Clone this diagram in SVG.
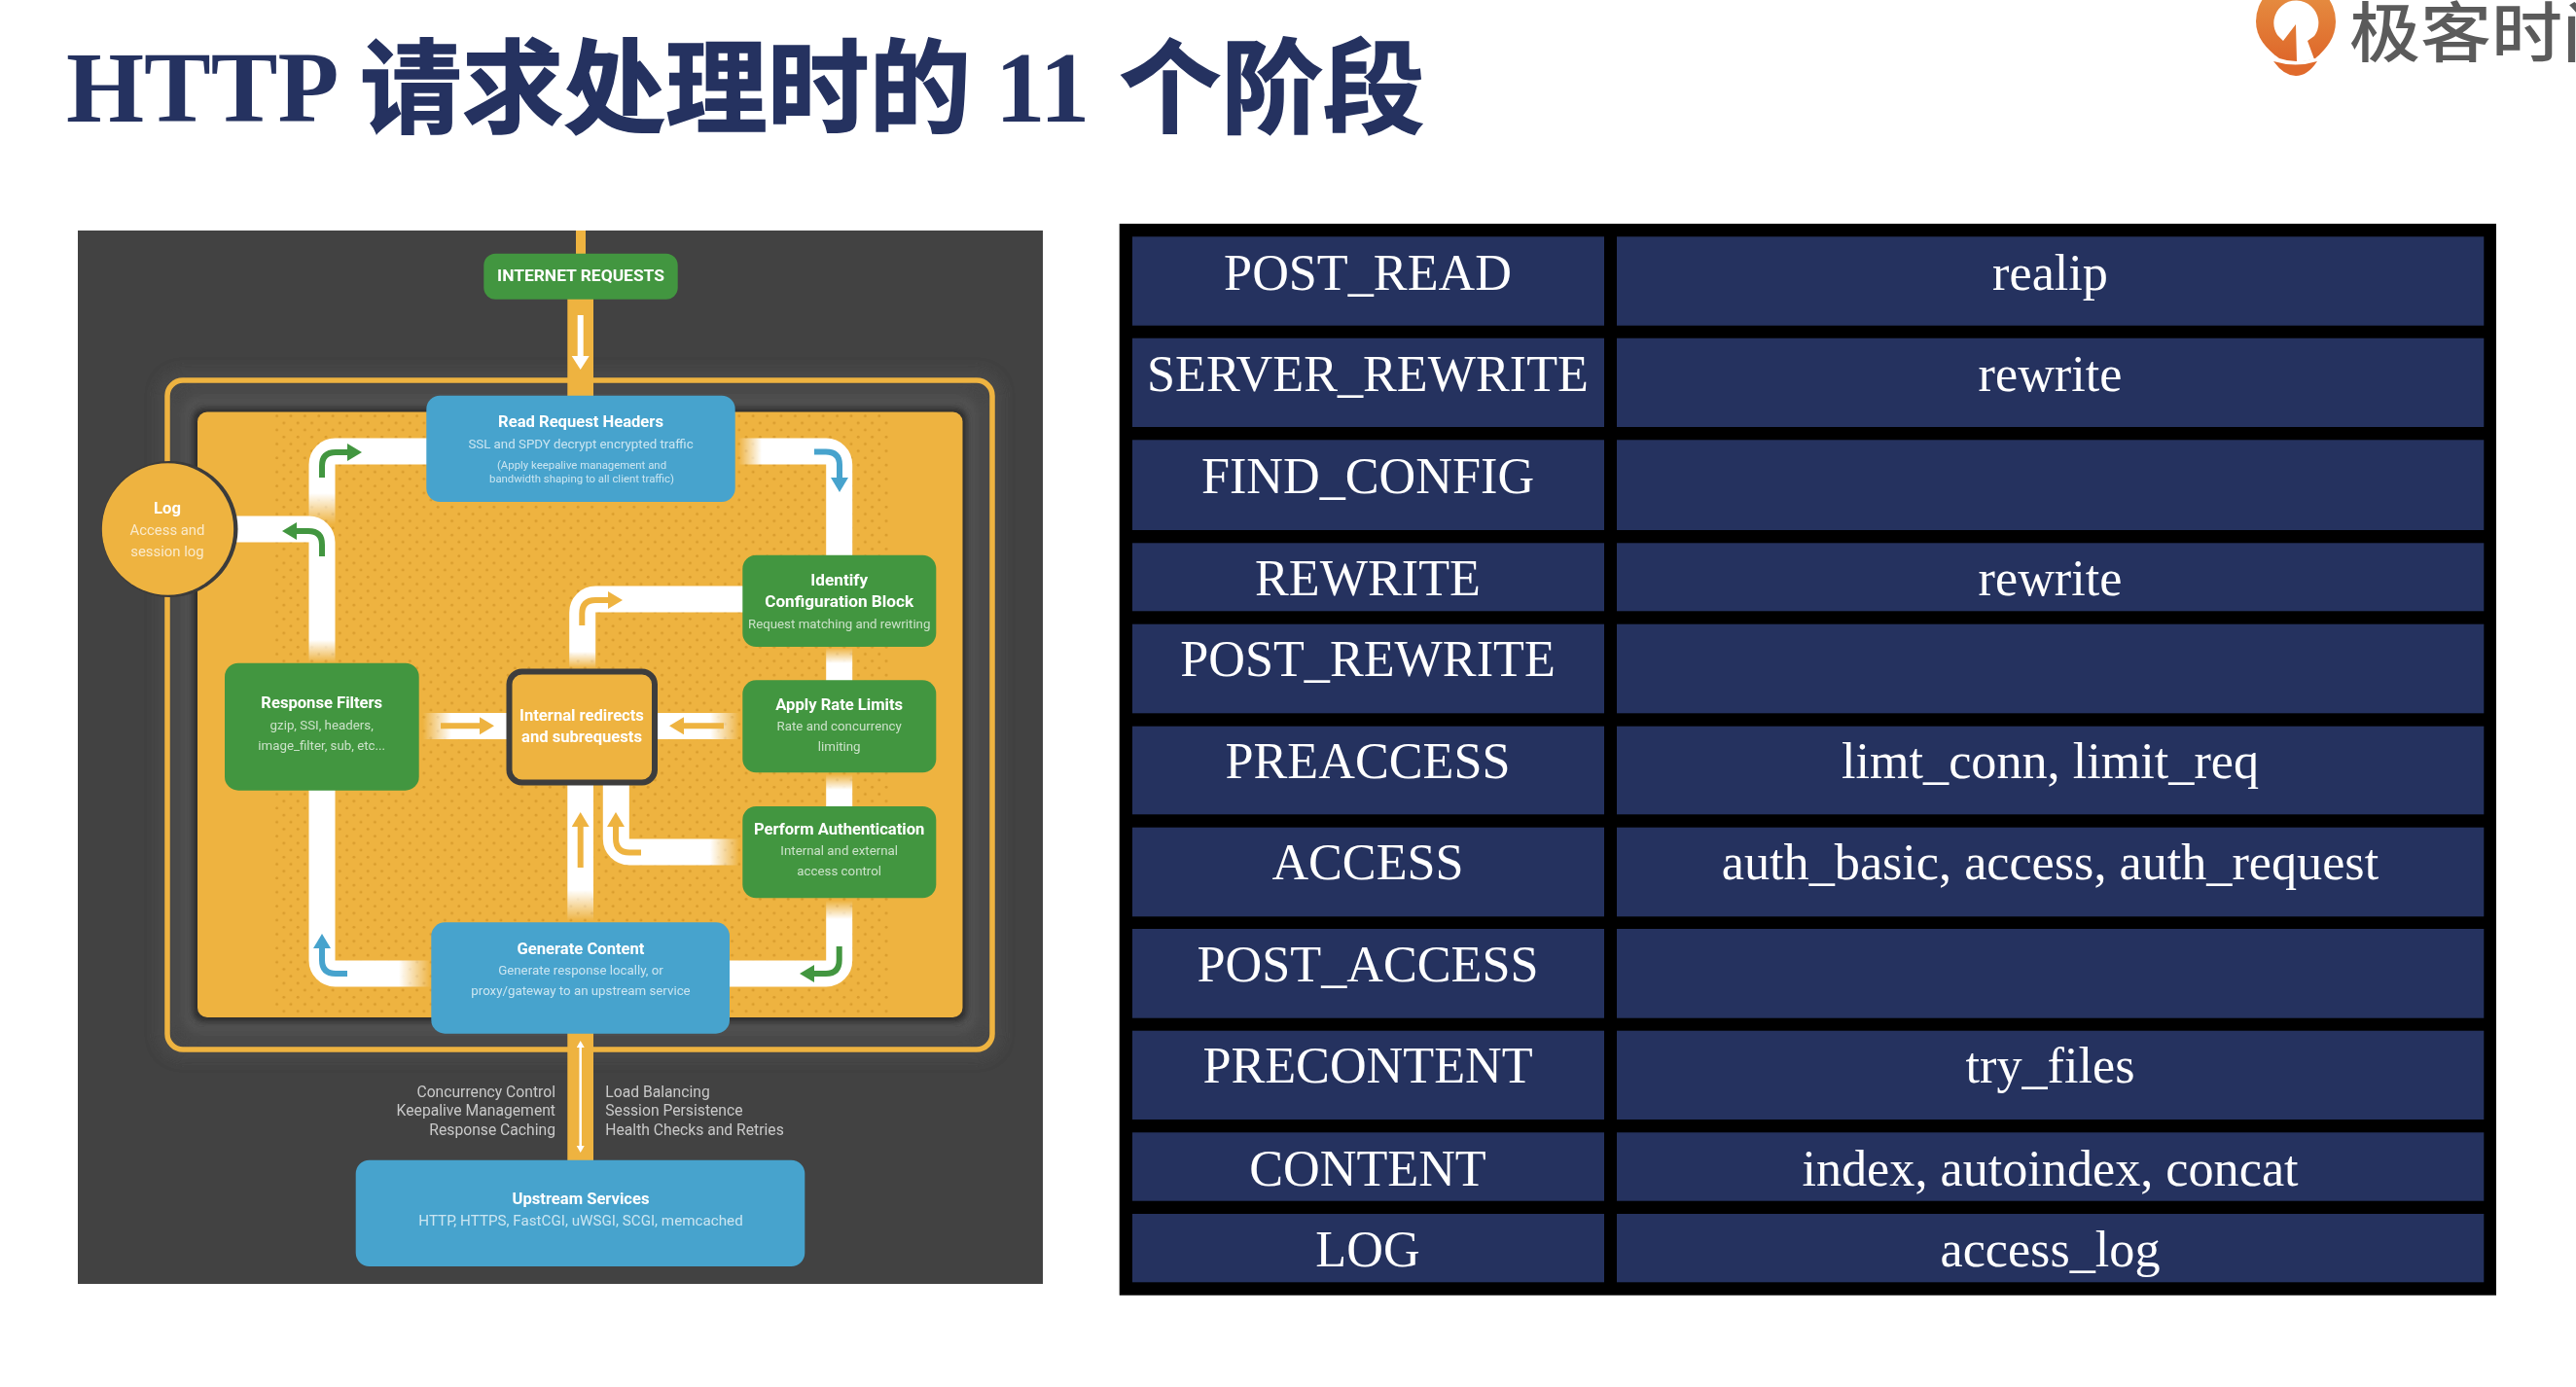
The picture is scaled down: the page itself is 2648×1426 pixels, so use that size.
<svg xmlns="http://www.w3.org/2000/svg" width="2648" height="1426" viewBox="0 0 2648 1426">
<style>
  .title { font: 700 103px "Liberation Serif", "Noto Sans CJK SC", serif; fill: #253260; }
  .title .cjk { font: 700 104.700px "Noto Sans CJK SC", sans-serif; stroke: #253260; stroke-width: 1.500px; }
  .brand { font: 500 73px "Noto Sans CJK SC", sans-serif; fill: #5b5b5b; }
  .cell { fill: #25325f; }
  .ct { font: 52.200px "Liberation Serif", serif; fill: #fff; text-anchor: middle; }
  .green { fill: #43963f; } .blue { fill: #46a3cd; } .amber { fill: #eeb341; }
  .h, .d, .s, .n { transform: translateY(-1px); }
  .h { font: 700 16.600px Roboto, sans-serif; fill: #fff; text-anchor: middle; }
  .d { font: 400 13.300px Roboto, sans-serif; fill: #fff; fill-opacity: .72; text-anchor: middle; }
  .s { font: 400 11.400px Roboto, sans-serif; fill: #fff; fill-opacity: .72; text-anchor: middle; }
  .n { font: 400 15.700px Roboto, sans-serif; fill: #c9c9c9; }
  .pipe { fill: none; stroke: #fff; stroke-width: 27; }
  .stem { fill: none; stroke-width: 6; }
  .fade { stroke: none; }
</style>
<defs>
  <linearGradient id="fadeDown" x1="0" y1="0" x2="0" y2="1"><stop offset="0" stop-color="#fff"/><stop offset="1" stop-color="#fff" stop-opacity="0"/></linearGradient>
  <linearGradient id="fadeUp" x1="0" y1="1" x2="0" y2="0"><stop offset="0" stop-color="#fff"/><stop offset="1" stop-color="#fff" stop-opacity="0"/></linearGradient>
  <linearGradient id="fadeRight" x1="0" y1="0" x2="1" y2="0"><stop offset="0" stop-color="#fff"/><stop offset="1" stop-color="#fff" stop-opacity="0"/></linearGradient>
  <linearGradient id="fadeLeft" x1="1" y1="0" x2="0" y2="0"><stop offset="0" stop-color="#fff"/><stop offset="1" stop-color="#fff" stop-opacity="0"/></linearGradient>
  <linearGradient id="pin" x1="0" y1="0" x2="0" y2="1"><stop offset="0" stop-color="#e79445"/><stop offset="1" stop-color="#de672a"/></linearGradient>
  <pattern id="dots" width="14.4" height="14.4" patternUnits="userSpaceOnUse" x="281" y="424">
    <circle cx="3.6" cy="3.6" r="1.500" fill="#d99c2c"/><circle cx="10.8" cy="10.8" r="1.500" fill="#d99c2c"/>
  </pattern>
  <filter id="soft" x="-5%" y="-5%" width="110%" height="110%"><feGaussianBlur stdDeviation="0.7"/></filter>
  <filter id="glow" x="-10%" y="-10%" width="120%" height="120%"><feGaussianBlur stdDeviation="7"/></filter>
  <filter id="edge" x="-10%" y="-10%" width="120%" height="120%"><feGaussianBlur stdDeviation="3"/></filter>
  <marker id="headAmber" markerUnits="userSpaceOnUse" markerWidth="16" markerHeight="20" refX="0" refY="9" orient="auto"><path d="M0 0L15 9L0 18Z" fill="#eeb341"/></marker>
  <marker id="headGreen" markerUnits="userSpaceOnUse" markerWidth="16" markerHeight="20" refX="0" refY="9" orient="auto"><path d="M0 0L15 9L0 18Z" fill="#43963f"/></marker>
  <marker id="headBlue" markerUnits="userSpaceOnUse" markerWidth="16" markerHeight="20" refX="0" refY="9" orient="auto"><path d="M0 0L15 9L0 18Z" fill="#46a3cd"/></marker>
  <marker id="headWhite" markerUnits="userSpaceOnUse" markerWidth="16" markerHeight="20" refX="0" refY="9" orient="auto"><path d="M0 0L14 9L0 18Z" fill="#fff"/></marker>
  <marker id="tipWhite" markerUnits="userSpaceOnUse" markerWidth="8" markerHeight="10" refX="0" refY="4" orient="auto-start-reverse"><path d="M0 0L7 4L0 8Z" fill="#fff"/></marker>
</defs>

<rect width="2648" height="1426" fill="#fff"/>
<text class="title" x="68" y="125">HTTP <tspan class="cjk" x="370" y="128">请求处理时的</tspan><tspan x="1023" y="125">11</tspan><tspan class="cjk" x="1150.500" y="128">个阶段</tspan></text>

<g id="brand-logo">
  <path d="M2319 22A41 41 0 0 1 2401 22C2401 38 2392 50 2380 60Q2360 66 2343 60C2329 50 2319 38 2319 22Z" fill="url(#pin)"/>
  <path d="M2360 25L2347 42L2341 36A23 23 0 1 1 2379 37L2372 42L2379 61L2361 64Z" fill="#fff"/>
  <path d="M2337 63Q2360 70 2382 63Q2372 78 2360 78Q2348 78 2337 63Z" fill="#e06a2c"/>
  <text class="brand" transform="translate(2415 58) scale(1 .92)">极客时间</text>
</g>

<g id="flow-diagram" filter="url(#soft)">
  <rect x="80" y="237" width="992" height="1083" fill="#424242"/>
  <rect x="172" y="391" width="848" height="688" rx="16" fill="none" stroke="#4a4a4a" stroke-width="18" filter="url(#glow)"/>
  <rect x="185" y="405" width="822" height="660" rx="18" fill="#525252" filter="url(#glow)"/>
  <rect x="198" y="419" width="796" height="632" rx="12" fill="#2e2e2e" filter="url(#edge)"/>
  <rect x="592" y="237" width="10" height="24" class="amber"/>
  <rect id="boundary" x="172" y="391" width="848" height="688" rx="16" fill="none" stroke="#eeb341" stroke-width="5.5"/>
  <rect x="203" y="423.500" width="786.500" height="622.500" rx="10" class="amber"/>
  <rect x="281" y="424" width="633" height="621" fill="url(#dots)"/>

  <g id="connectors">
    <rect x="583.300" y="307" width="26.700" height="100" class="amber"/>
    <rect x="583.300" y="1062" width="26.700" height="131" class="amber"/>
    <path class="stem" d="M596.700 324V366" stroke="#fff" stroke-width="5" marker-end="url(#headWhite)"/>
    <path d="M596.700 1077V1178" fill="none" stroke="#fff" stroke-width="2.500" marker-start="url(#tipWhite)" marker-end="url(#tipWhite)"/>

    <!-- main loop -->
    <path class="pipe" d="M440 464H344.500A13.500 13.500 0 0 0 331 477.500V507"/>
    <rect class="fade" x="317.500" y="507" width="27" height="32" fill="url(#fadeDown)"/>
    <path class="pipe" d="M242 544H317.500A13.500 13.500 0 0 1 331 557.500V658"/>
    <rect class="fade" x="317.500" y="658" width="27" height="23" fill="url(#fadeDown)"/>
    <path class="pipe" d="M331 811V987.500A13.500 13.500 0 0 0 344.500 1001H410"/>
    <rect class="fade" x="410" y="987.500" width="33" height="27" fill="url(#fadeRight)"/>
    <rect class="fade" x="759" y="450.500" width="24" height="27" fill="url(#fadeLeft)"/>
    <path class="pipe" d="M783 464H849.200A13.500 13.500 0 0 1 862.700 477.500V572"/>
    <rect class="fade" x="849.200" y="666" width="27" height="16" fill="url(#fadeUp)"/>
    <rect x="849.200" y="682" width="27" height="18" fill="#fff"/>
    <rect class="fade" x="849.200" y="796" width="27" height="16" fill="url(#fadeUp)"/>
    <rect x="849.200" y="812" width="27" height="18" fill="#fff"/>
    <rect class="fade" x="849.200" y="926" width="27" height="19" fill="url(#fadeUp)"/>
    <path class="pipe" d="M862.700 945V987.500A13.500 13.500 0 0 1 849.200 1001H749"/>

    <!-- branches into the redirect box -->
    <rect class="fade" x="435" y="733" width="29" height="27" fill="url(#fadeLeft)"/>
    <rect x="464" y="733" width="58" height="27" fill="#fff"/>
    <rect class="fade" x="730" y="733" width="30" height="27" fill="url(#fadeRight)"/>
    <rect x="675" y="733" width="55" height="27" fill="#fff"/>
    <path class="pipe" d="M764 616H612.200A13.500 13.500 0 0 0 598.700 629.500V670"/>
    <rect class="fade" x="585.200" y="670" width="27" height="17" fill="url(#fadeDown)"/>
    <rect x="583.300" y="806" width="26.700" height="109" fill="#fff"/>
    <rect class="fade" x="583.300" y="915" width="26.700" height="32" fill="url(#fadeDown)"/>
    <path class="pipe" d="M633.300 806V862.500A13.500 13.500 0 0 0 646.800 876H730"/>
    <rect class="fade" x="730" y="862.500" width="30" height="27" fill="url(#fadeRight)"/>

    <!-- direction arrows -->
    <path class="stem" d="M331 491V479Q331 465 345 465H357" stroke="#43963f" marker-end="url(#headGreen)"/>
    <path class="stem" d="M331 572V560Q331 546 317 546H305" stroke="#43963f" marker-end="url(#headGreen)"/>
    <path class="stem" d="M837 464.500H849Q863 464.500 863 478V491" stroke="#46a3cd" marker-end="url(#headBlue)"/>
    <path class="stem" d="M862.700 973V987Q862.700 1001 849 1001H837" stroke="#43963f" marker-end="url(#headGreen)"/>
    <path class="stem" d="M357 1001H345Q331 1001 331 987V975" stroke="#46a3cd" marker-end="url(#headBlue)"/>
    <path class="stem" d="M453 746.300H493" stroke="#eeb341" marker-end="url(#headAmber)"/>
    <path class="stem" d="M744 746.300H703" stroke="#eeb341" marker-end="url(#headAmber)"/>
    <path class="stem" d="M598.300 643V631Q598.300 617 612 617H625" stroke="#eeb341" marker-end="url(#headAmber)"/>
    <path class="stem" d="M596.700 892V850" stroke="#eeb341" marker-end="url(#headAmber)"/>
    <path class="stem" d="M659 876.500H647Q633 876.500 633 862V850" stroke="#eeb341" marker-end="url(#headAmber)"/>
  </g>

  <g id="node-internet">
    <rect x="497.300" y="260.700" width="199.400" height="47" rx="12" class="green"/>
    <text class="h" x="597" y="290" style="font-size:17.400px">INTERNET REQUESTS</text>
  </g>
  <g id="node-read-headers">
    <rect x="438.300" y="406.700" width="317.400" height="109.300" rx="14" class="blue"/>
    <text class="h" x="597" y="440">Read Request Headers</text>
    <text class="d" x="597" y="461.700">SSL and SPDY decrypt encrypted traffic</text>
    <text class="s" x="598" y="483">(Apply keepalive management and</text>
    <text class="s" x="598" y="497">bandwidth shaping to all client traffic)</text>
  </g>
  <g id="node-log">
    <circle cx="174.500" cy="544" r="70" fill="#3a3a3a"/>
    <circle cx="172.500" cy="544" r="67.700" class="amber"/>
    <text class="h" x="172" y="529">Log</text>
    <text class="d" x="172" y="551" style="font-size:14.900px">Access and</text>
    <text class="d" x="172" y="573" style="font-size:14.900px">session log</text>
  </g>
  <g id="node-identify">
    <rect x="763.300" y="570.700" width="199" height="94.300" rx="14" class="green"/>
    <text class="h" x="862.700" y="603" style="font-size:17.200px">Identify</text>
    <text class="h" x="862.700" y="625.300" style="font-size:17.200px">Configuration Block</text>
    <text class="d" x="862.700" y="646.700">Request matching and rewriting</text>
  </g>
  <g id="node-rate-limits">
    <rect x="763.300" y="699.300" width="199" height="95" rx="14" class="green"/>
    <text class="h" x="862.700" y="730.700">Apply Rate Limits</text>
    <text class="d" x="862.700" y="752.300">Rate and concurrency</text>
    <text class="d" x="862.700" y="773.300">limiting</text>
  </g>
  <g id="node-authentication">
    <rect x="763.300" y="829" width="199" height="94.300" rx="14" class="green"/>
    <text class="h" x="862.700" y="859">Perform Authentication</text>
    <text class="d" x="862.700" y="880">Internal and external</text>
    <text class="d" x="862.700" y="901.300">access control</text>
  </g>
  <g id="node-response-filters">
    <rect x="231" y="681.700" width="199.700" height="131" rx="14" class="green"/>
    <text class="h" x="330.700" y="729">Response Filters</text>
    <text class="d" x="330.700" y="750.700">gzip, SSI, headers,</text>
    <text class="d" x="330.700" y="771.700">image_filter, sub, etc...</text>
  </g>
  <g id="node-internal">
    <rect x="523.500" y="690.500" width="149.500" height="114" rx="13" class="amber" stroke="#3d3d3d" stroke-width="6"/>
    <text class="h" x="598" y="742.300">Internal redirects</text>
    <text class="h" x="598" y="763.700">and subrequests</text>
  </g>
  <g id="node-generate">
    <rect x="443.300" y="948.300" width="306.700" height="114.400" rx="14" class="blue"/>
    <text class="h" x="597" y="981.700">Generate Content</text>
    <text class="d" x="597" y="1003.300">Generate response locally, or</text>
    <text class="d" x="597" y="1024.300">proxy/gateway to an upstream service</text>
  </g>
  <g id="node-upstream">
    <rect x="365.700" y="1192.700" width="461.600" height="109.300" rx="14" class="blue"/>
    <text class="h" x="597" y="1239">Upstream Services</text>
    <text class="d" x="597" y="1261" style="font-size:15.200px">HTTP, HTTPS, FastCGI, uWSGI, SCGI, memcached</text>
  </g>
  <g id="notes-left" text-anchor="end">
    <text class="n" x="571" y="1129">Concurrency Control</text>
    <text class="n" x="571" y="1148">Keepalive Management</text>
    <text class="n" x="571" y="1167.700">Response Caching</text>
  </g>
  <g id="notes-right">
    <text class="n" x="622.300" y="1129">Load Balancing</text>
    <text class="n" x="622.300" y="1148">Session Persistence</text>
    <text class="n" x="622.300" y="1167.700">Health Checks and Retries</text>
  </g>
</g>

<g id="phase-table">
  <rect x="1150.700" y="230" width="1415.300" height="1101.700" fill="#000"/>
  <g id="row-post-read"><rect class="cell" x="1164" y="243.300" width="485" height="91.400"/><rect class="cell" x="1662" y="243.300" width="891.300" height="91.400"/><text class="ct" x="1406" y="298.300">POST_READ</text><text class="ct" x="2107.500" y="298.300">realip</text></g>
  <g id="row-server-rewrite"><rect class="cell" x="1164" y="347.700" width="485" height="91.300"/><rect class="cell" x="1662" y="347.700" width="891.300" height="91.300"/><text class="ct" x="1406" y="401.700">SERVER_REWRITE</text><text class="ct" x="2107.500" y="401.700">rewrite</text></g>
  <g id="row-find-config"><rect class="cell" x="1164" y="452.300" width="485" height="92.700"/><rect class="cell" x="1662" y="452.300" width="891.300" height="92.700"/><text class="ct" x="1406" y="506.700">FIND_CONFIG</text></g>
  <g id="row-rewrite"><rect class="cell" x="1164" y="558.300" width="485" height="70"/><rect class="cell" x="1662" y="558.300" width="891.300" height="70"/><text class="ct" x="1406" y="612.300">REWRITE</text><text class="ct" x="2107.500" y="612.300">rewrite</text></g>
  <g id="row-post-rewrite"><rect class="cell" x="1164" y="641.700" width="485" height="91.600"/><rect class="cell" x="1662" y="641.700" width="891.300" height="91.600"/><text class="ct" x="1406" y="695.300">POST_REWRITE</text></g>
  <g id="row-preaccess"><rect class="cell" x="1164" y="746.700" width="485" height="90.600"/><rect class="cell" x="1662" y="746.700" width="891.300" height="90.600"/><text class="ct" x="1406" y="800">PREACCESS</text><text class="ct" x="2107.500" y="800">limt_conn, limit_req</text></g>
  <g id="row-access"><rect class="cell" x="1164" y="850.700" width="485" height="91.600"/><rect class="cell" x="1662" y="850.700" width="891.300" height="91.600"/><text class="ct" x="1406" y="904.300">ACCESS</text><text class="ct" x="2107.500" y="904.300">auth_basic, access, auth_request</text></g>
  <g id="row-post-access"><rect class="cell" x="1164" y="955" width="485" height="91.700"/><rect class="cell" x="1662" y="955" width="891.300" height="91.700"/><text class="ct" x="1406" y="1009.300">POST_ACCESS</text></g>
  <g id="row-precontent"><rect class="cell" x="1164" y="1059.700" width="485" height="91.300"/><rect class="cell" x="1662" y="1059.700" width="891.300" height="91.300"/><text class="ct" x="1406" y="1113.300">PRECONTENT</text><text class="ct" x="2107.500" y="1113.300">try_files</text></g>
  <g id="row-content"><rect class="cell" x="1164" y="1164.300" width="485" height="70.400"/><rect class="cell" x="1662" y="1164.300" width="891.300" height="70.400"/><text class="ct" x="1406" y="1219">CONTENT</text><text class="ct" x="2107.500" y="1219">index, autoindex, concat</text></g>
  <g id="row-log"><rect class="cell" x="1164" y="1248" width="485" height="70.300"/><rect class="cell" x="1662" y="1248" width="891.300" height="70.300"/><text class="ct" x="1406" y="1302">LOG</text><text class="ct" x="2107.500" y="1302">access_log</text></g>
</g>
</svg>
